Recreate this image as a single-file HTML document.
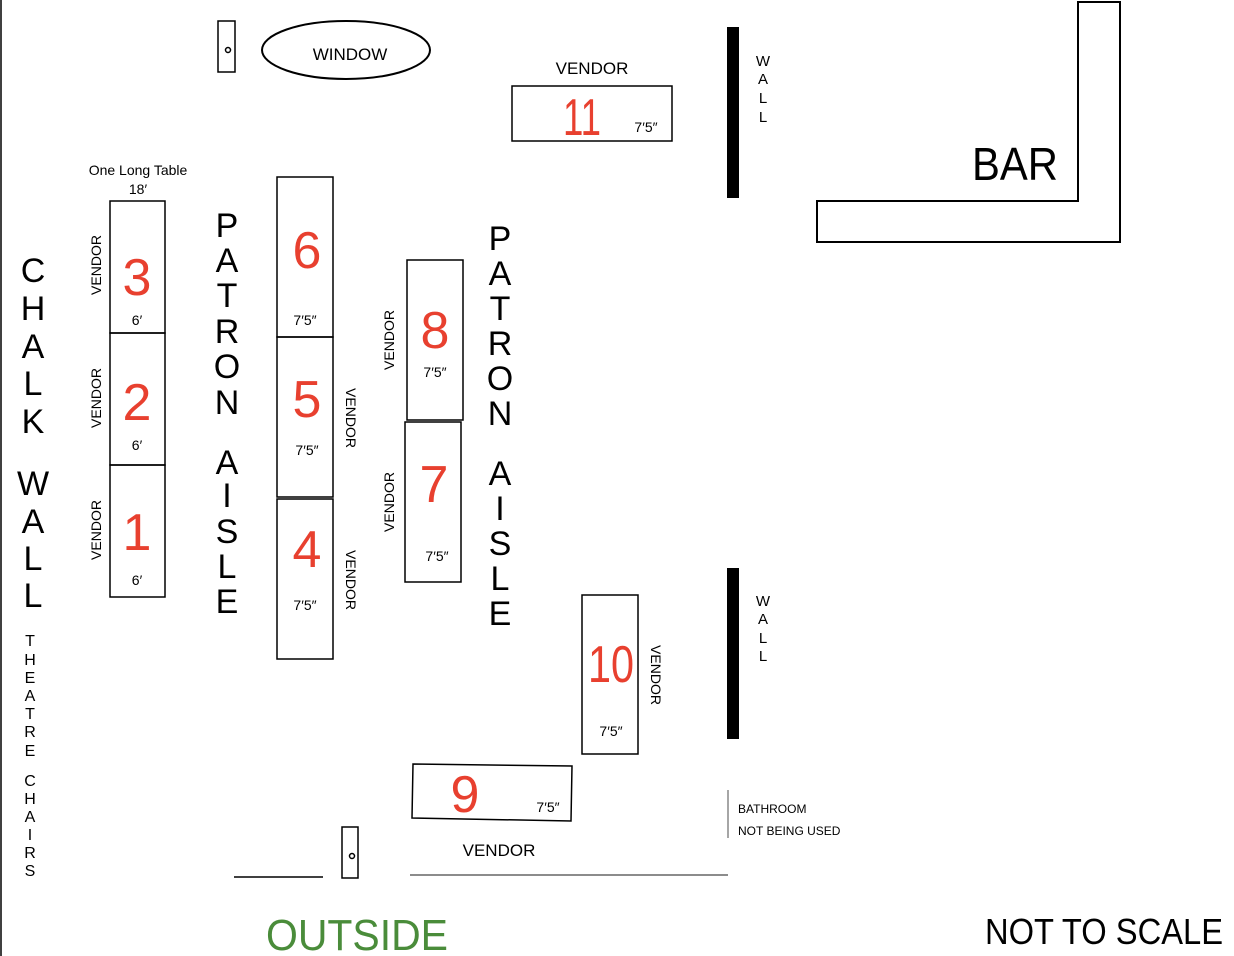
<!DOCTYPE html>
<html><head><meta charset="utf-8"><style>
html,body{margin:0;padding:0;background:#fff;}
svg{display:block;font-family:"Liberation Sans",sans-serif;}
.r{fill:#e8402f;}
</style></head><body>
<svg width="1234" height="956" viewBox="0 0 1234 956" xmlns="http://www.w3.org/2000/svg">
<g fill="none" stroke="#000" stroke-width="1.5">
<line x1="1" y1="0" x2="1" y2="956"/>
<rect x="218" y="21" width="17" height="51"/>
<circle cx="228" cy="50" r="2.5"/>
<ellipse cx="346" cy="50" rx="84" ry="29" stroke-width="2"/>
<rect x="512" y="86" width="160" height="55"/>
<path d="M1078 2 H1120 V242 H817 V201 H1078 Z" stroke-width="2"/>
<rect x="110" y="201" width="55" height="132"/>
<rect x="110" y="333" width="55" height="132"/>
<rect x="110" y="465" width="55" height="132"/>
<rect x="277" y="177" width="56" height="160"/>
<rect x="277" y="337" width="56" height="160"/>
<rect x="277" y="499" width="56" height="160"/>
<rect x="407" y="260" width="56" height="160"/>
<rect x="405" y="422" width="56" height="160"/>
<rect x="582" y="595" width="56" height="159"/>
<polygon points="413,764 572,766 571,821 412,818"/>
<rect x="342" y="827" width="16" height="51"/>
<circle cx="352" cy="856" r="2.5"/>
<line x1="234" y1="877" x2="323" y2="877"/>
<line x1="410" y1="875" x2="728" y2="875" stroke="#666"/>
<line x1="728" y1="790" x2="728" y2="838" stroke="#888"/>
</g>
<rect x="727" y="27" width="12" height="171" fill="#000"/>
<rect x="727" y="568" width="12" height="171" fill="#000"/>
<g font-size="17" text-anchor="middle">
<text x="350" y="60">WINDOW</text>
<text x="592" y="74">VENDOR</text>
<text x="499" y="856">VENDOR</text>
</g>
<g font-size="15" text-anchor="middle">
<text x="763" y="66">W</text><text x="763" y="84">A</text><text x="763" y="103">L</text><text x="763" y="122">L</text>
<text x="763" y="606">W</text><text x="763" y="624">A</text><text x="763" y="643">L</text><text x="763" y="661">L</text>
</g>
<text x="1015" y="180" font-size="46" text-anchor="middle" textLength="86" lengthAdjust="spacingAndGlyphs">BAR</text>
<text x="138" y="175" font-size="14" text-anchor="middle">One  Long Table</text>
<text x="138" y="194" font-size="14" text-anchor="middle">18′</text>
<g font-size="52" text-anchor="middle" class="r">
<text x="137" y="295">3</text><text x="137" y="420">2</text><text x="137" y="550">1</text>
<text x="307" y="268">6</text><text x="307" y="417">5</text><text x="307" y="567">4</text>
<text x="435" y="348">8</text><text x="434" y="502">7</text>
<text x="611" y="682" textLength="46" lengthAdjust="spacingAndGlyphs">10</text><text x="582" y="135" textLength="38" lengthAdjust="spacingAndGlyphs">11</text><text x="465" y="812">9</text>
</g>
<g font-size="14" text-anchor="middle">
<text x="137" y="325">6′</text><text x="137" y="450">6′</text><text x="137" y="585">6′</text>
<text x="305" y="325">7′5″</text><text x="307" y="455">7′5″</text><text x="305" y="610">7′5″</text>
<text x="435" y="377">7′5″</text><text x="437" y="561">7′5″</text>
<text x="611" y="736">7′5″</text><text x="646" y="132">7′5″</text><text x="548" y="812">7′5″</text>
</g>
<g font-size="14" text-anchor="middle">
<text transform="translate(101,265) rotate(-90)">VENDOR</text>
<text transform="translate(101,398) rotate(-90)">VENDOR</text>
<text transform="translate(101,530) rotate(-90)">VENDOR</text>
<text transform="translate(394,340) rotate(-90)">VENDOR</text>
<text transform="translate(394,502) rotate(-90)">VENDOR</text>
<text transform="translate(346,418) rotate(90)">VENDOR</text>
<text transform="translate(346,580) rotate(90)">VENDOR</text>
<text transform="translate(651,675) rotate(90)">VENDOR</text>
</g>
<g font-size="34" text-anchor="middle">
<text x="33" y="282">C</text><text x="33" y="320">H</text><text x="33" y="358">A</text><text x="33" y="395">L</text><text x="33" y="433">K</text>
<text x="33" y="495">W</text><text x="33" y="533">A</text><text x="33" y="570">L</text><text x="33" y="607">L</text>
<text x="227" y="237">P</text><text x="227" y="272">A</text><text x="227" y="307">T</text><text x="227" y="343">R</text><text x="227" y="378">O</text><text x="227" y="414">N</text>
<text x="227" y="474">A</text><text x="227" y="507">I</text><text x="227" y="543">S</text><text x="227" y="578">L</text><text x="227" y="613">E</text>
<text x="500" y="250">P</text><text x="500" y="285">A</text><text x="500" y="320">T</text><text x="500" y="355">R</text><text x="500" y="390">O</text><text x="500" y="425">N</text>
<text x="500" y="485">A</text><text x="500" y="520">I</text><text x="500" y="555">S</text><text x="500" y="590">L</text><text x="500" y="625">E</text>
</g>
<g font-size="16" text-anchor="middle">
<text x="30" y="646">T</text><text x="30" y="665">H</text><text x="30" y="683">E</text><text x="30" y="701">A</text><text x="30" y="719">T</text><text x="30" y="737">R</text><text x="30" y="756">E</text>
<text x="30" y="786">C</text><text x="30" y="804">H</text><text x="30" y="822">A</text><text x="30" y="840">I</text><text x="30" y="858">R</text><text x="30" y="876">S</text>
</g>
<text x="738" y="813" font-size="12">BATHROOM</text>
<text x="738" y="835" font-size="12">NOT BEING USED</text>
<text x="357" y="950" font-size="44" fill="#4a8c3a" text-anchor="middle" textLength="182" lengthAdjust="spacingAndGlyphs">OUTSIDE</text>
<text x="1104" y="944" font-size="36" text-anchor="middle" textLength="238" lengthAdjust="spacingAndGlyphs">NOT TO SCALE</text>
</svg>
</body></html>
